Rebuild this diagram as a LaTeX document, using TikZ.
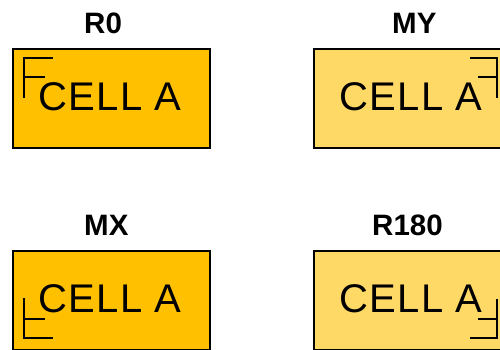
\documentclass[tikz,border=0pt]{standalone}
\usepackage{fontspec}
\setmainfont{Liberation Sans}
\definecolor{cellorange}{HTML}{FFC000}
\definecolor{celllight}{HTML}{FFD966}
\begin{document}
\begin{tikzpicture}[x=1pt,y=-1pt,
  cellbox/.style={draw=black,line width=2.2pt,rectangle,inner sep=0pt,minimum width=197pt,minimum height=99pt},
  celltext/.style={inner sep=0pt,anchor=base west,font=\fontsize{40}{40}\selectfont\addfontfeatures{LetterSpace=3.5}},
  orient/.style={inner sep=0pt,anchor=west,font=\fontsize{29.5}{29.5}\selectfont\bfseries},
  marker/.style={draw=black,line width=2.2pt}]
\useasboundingbox (0,0) rectangle (500,349);
% boxes
\node[cellbox,fill=cellorange,anchor=north west] (b0) at (12,48) {};
\node[cellbox,fill=celllight,anchor=north west] (b1) at (313,48) {};
\node[cellbox,fill=cellorange,anchor=north west] (b2) at (12,250) {};
\node[cellbox,fill=celllight,anchor=north west] (b3) at (313,250) {};
% labels
\node[orient] (l0) at (84,23) {R0};
\node[orient] (l1) at (392,23) {MY};
\node[orient] (l2) at (84,225) {MX};
\node[orient] (l3) at (372,225) {R180};
% texts
\node[celltext] (t0) at (38,110.5) {CELL A};
\node[celltext] (t1) at (339,110.5) {CELL A};
\node[celltext] (t2) at (38,312) {CELL A};
\node[celltext] (t3) at (339,312) {CELL A};
% orientation markers
\draw[marker] (53,58) -- (24,58) -- (24,98);
\draw[marker] (24,77) -- (45,77);
\draw[marker] (470,58) -- (497,58) -- (497,98);
\draw[marker] (497,77) -- (478,77);
\draw[marker] (53,338) -- (24,338) -- (24,298);
\draw[marker] (24,319) -- (45,319);
\draw[marker] (470,338) -- (497,338) -- (497,299);
\draw[marker] (497,319) -- (478,319);
\end{tikzpicture}
\end{document}
